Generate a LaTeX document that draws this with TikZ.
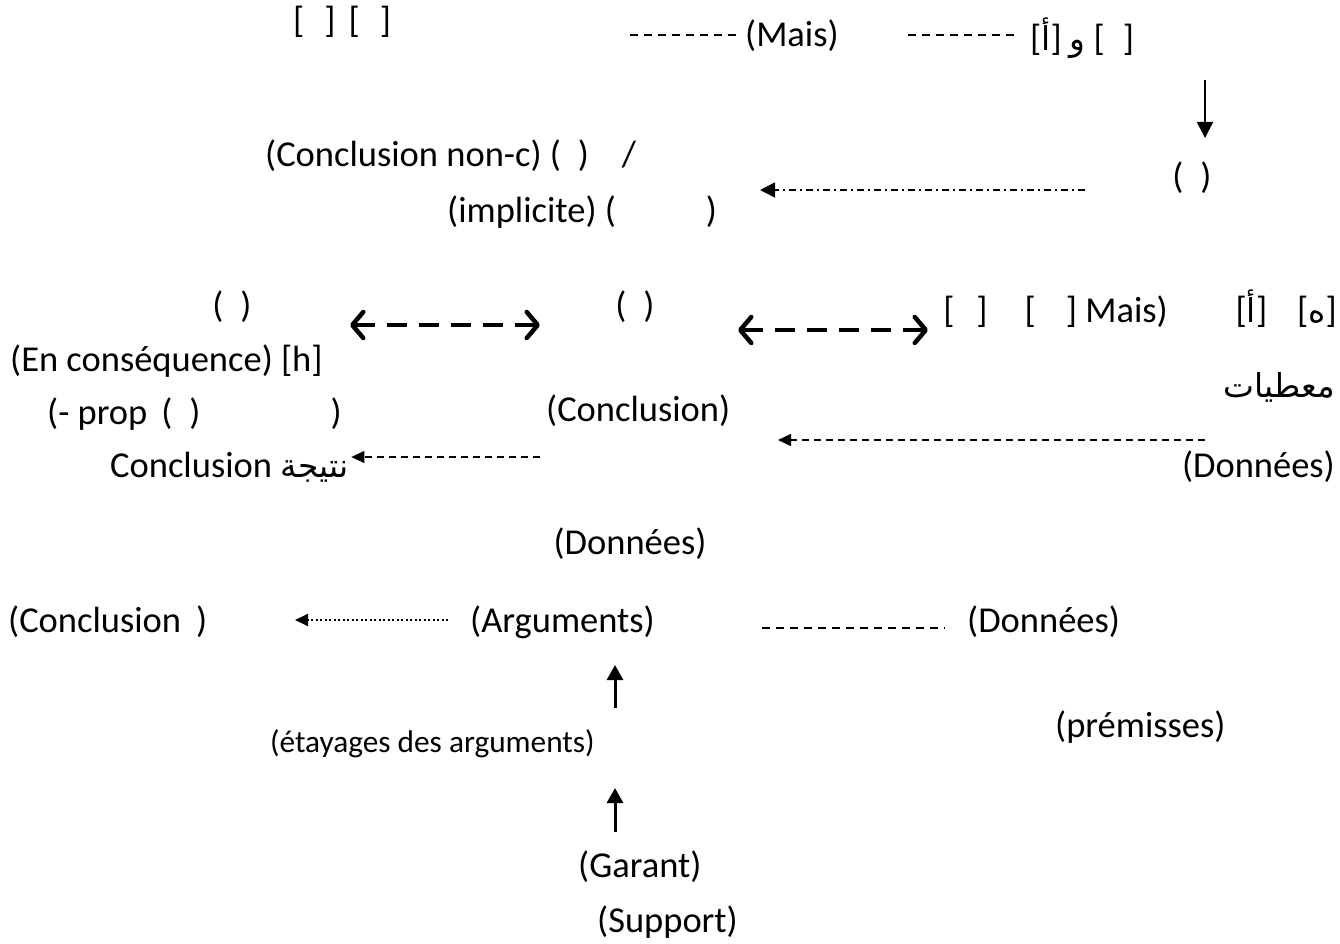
\documentclass[tikz,border=0pt]{standalone}
\usepackage{fontspec}
\setmainfont{Carlito}
\newfontfamily\arfont[Script=Arabic,Scale=0.9]{DejaVu Sans}
\TeXXeTstate=1
\usetikzlibrary{arrows.meta}

\begin{document}
\begin{tikzpicture}[
    x=1pt, y=-1pt,
    every node/.style={inner sep=0pt, font=\fontsize{36.5}{44}\selectfont, text height=27pt, text depth=9pt},
    small/.style={font=\fontsize{31.3}{38}\selectfont, text height=23pt, text depth=8pt},
    hyph/.style={line width=1.5pt, dash pattern=on 8pt off 6pt},
    solidarr/.style={line width=1.8pt, -{Triangle[length=16pt,width=16pt]}},
    dashdotarr/.style={line width=1.5pt, dash pattern=on 7pt off 4pt on 2pt off 4pt, -{Triangle[length=15pt,width=15pt]}},
    dblarr/.style={line width=4.2pt, dash pattern=on 20pt off 12pt, {Straight Barb[length=11pt,width=26pt,line width=4.5pt,round]}-{Straight Barb[length=11pt,width=26pt,line width=4.5pt,round]}},
    thinarr/.style={line width=1.3pt, dash pattern=on 7pt off 5pt, -{Triangle[length=13pt,width=12pt]}},
    dotarr/.style={line width=2pt, dash pattern=on 2pt off 2.5pt, -{Triangle[length=13pt,width=12pt]}},
    uparr/.style={line width=3pt, -{Triangle[length=15pt,width=16pt]}}
]
    \fill[white] (0,0) rectangle (1340,944);
    \useasboundingbox (0,0) rectangle (1340,944);

    % Nodes
    \node[anchor=west] (brk) at (293,24) {[\hspace{20pt}]\hspace{13pt}[\hspace{20pt}]};
    \node[anchor=west] (mais) at (745,38) {(Mais)};
    \node[anchor=west] (waw) at (1030,42) {[{\arfont\beginR أ\endR}]\hspace{8pt}{\arfont\beginR و\endR}\hspace{8pt}[\hspace{18pt}]};
    \node (par1) at (1192,180) {(\hspace{17pt})};
    \node[anchor=west] (nonc) at (265,158) {(Conclusion non-c) (\hspace{17pt})\hspace{33pt}/};
    \node[anchor=west] (impl) at (447,213) {(implicite) (\hspace{90pt})};

    \node (par2) at (232,308) {(\hspace{17pt})};
    \node (par3) at (635,308) {(\hspace{17pt})};
    \node[anchor=east] (mais2) at (1337,313) {[\hspace{22pt}]\hspace{37pt}[\hspace{30pt}] Mais)\hspace{68pt}[{\arfont\beginR أ\endR}]\hspace{30pt}[{\arfont\beginR ه\endR}]};
    \node[anchor=west] (enc) at (10,362) {(En conséquence) [h]};
    \node[anchor=west] (prop) at (47,415) {(- prop\hspace{14pt}(\hspace{17pt})\hspace{130pt})};
    \node[anchor=west] (concl) at (546,412) {(Conclusion)};
    \node[anchor=east] (mutaiat) at (1335,388) {\arfont\beginR معطيات\endR};
    \node[anchor=east] (donn1) at (1335,468) {(Données)};
    \node[anchor=west] (natija) at (110,468) {Conclusion {\arfont\beginR نتيجة\endR}};

    \node (donn2) at (630,545) {(Données)};
    \node[anchor=west] (concl2) at (8,623) {(Conclusion\hspace{15pt})};
    \node[anchor=west] (args) at (470,623) {(Arguments)};
    \node[anchor=west] (donn3) at (967,623) {(Données)};
    \node[small, anchor=west] (etay) at (270,745) {(étayages des arguments)};
    \node[anchor=west] (prem) at (1055,728) {(prémisses)};
    \node[anchor=west] (garant) at (578,868) {(Garant)};
    \node[anchor=west] (support) at (597,923) {(Support)};

    % Arrow ends
    \coordinate (h1) at (630,35);
    \coordinate (h2) at (908,35);
    \coordinate (dn) at (1205,80);
    \coordinate (dnT) at (1205,138);
    \coordinate (ddR) at (1085,190);
    \coordinate (ddL) at (760,190);
    \coordinate (da1) at (350,325);
    \coordinate (da2) at (540,325);
    \coordinate (db1) at (738,330);
    \coordinate (db2) at (928,330);
    \coordinate (tR) at (1205,440);
    \coordinate (tL) at (778,440);
    \coordinate (nR) at (540,457);
    \coordinate (dotR) at (448,620);
    \coordinate (dotL) at (295,620);
    \coordinate (dl) at (762,628);
    \coordinate (up1) at (615,708);
    \coordinate (up1T) at (615,665);
    \coordinate (up2) at (615,832);
    \coordinate (up2T) at (615,788);

    % Arrows
    \draw[hyph] (h1) -- ([xshift=-8pt]h1 -| mais.west);
    \draw[hyph] (h2) -- ([xshift=-15pt]h2 -| waw.west);
    \draw[solidarr] (dn) -- (dnT);
    \draw[dashdotarr] (ddR) -- (ddL);
    \draw[dblarr] (da1) -- (da2);
    \draw[dblarr] (db1) -- (db2);
    \draw[thinarr] (tR) -- (tL);
    \draw[thinarr, shorten >=3pt] (nR) -- (nR -| natija.east);
    \draw[dotarr] (dotR) -- (dotL);
    \draw[hyph, line width=1.2pt] (dl) -- ([xshift=-22pt]dl -| donn3.west);
    \draw[uparr] (up1) -- (up1T);
    \draw[uparr] (up2) -- (up2T);
\end{tikzpicture}
\end{document}
